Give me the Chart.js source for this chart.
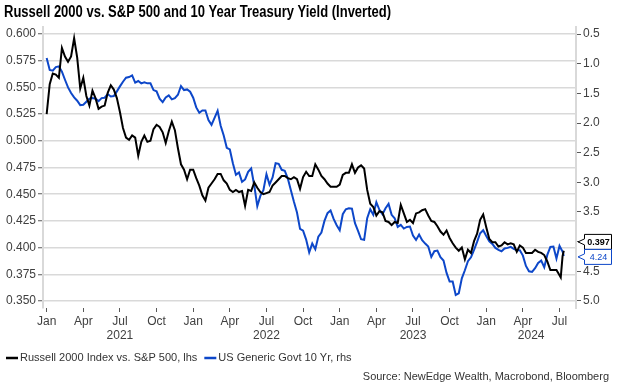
<!DOCTYPE html>
<html>
<head>
<meta charset="utf-8">
<script src="https://cdn.jsdelivr.net/npm/chart.js@4.4.1/dist/chart.umd.min.js"></script>
<style>
    html, body { margin: 0; padding: 0; background: #fff; }
    #wrap { width: 624px; height: 388px; }
</style>
</head>
<body>
<div id="wrap"><canvas id="chart" width="624" height="388"></canvas></div>
<script>
// months since Jan 2021
const months = [
    0, 0.25, 0.5, 0.75, 1, 1.25, 1.5, 1.75, 2, 2.25, 2.5, 2.75, 3, 3.25, 3.5, 3.75,
    4, 4.25, 4.5, 4.75, 5, 5.25, 5.5, 5.75, 6, 6.25, 6.5, 6.75, 7, 7.25, 7.5, 7.75,
    8, 8.25, 8.5, 8.75, 9, 9.25, 9.5, 9.75, 10, 10.25, 10.5, 10.75, 11, 11.25, 11.5, 11.75,
    12, 12.25, 12.5, 12.75, 13, 13.25, 13.5, 13.75, 14, 14.25, 14.5, 14.75, 15, 15.25, 15.5, 15.75,
    16, 16.25, 16.5, 16.75, 17, 17.25, 17.5, 17.75, 18, 18.25, 18.5, 18.75, 19, 19.25, 19.5, 19.75,
    20, 20.25, 20.5, 20.75, 21, 21.25, 21.5, 21.75, 22, 22.25, 22.5, 22.75, 23, 23.25, 23.5, 23.75,
    24, 24.25, 24.5, 24.75, 25, 25.25, 25.5, 25.75, 26, 26.25, 26.5, 26.75, 27, 27.25, 27.5, 27.75,
    28, 28.25, 28.5, 28.75, 29, 29.25, 29.5, 29.75, 30, 30.25, 30.5, 30.75, 31, 31.25, 31.5, 31.75,
    32, 32.25, 32.5, 32.75, 33, 33.25, 33.5, 33.75, 34, 34.25, 34.5, 34.75, 35, 35.25, 35.5, 35.75,
    36, 36.25, 36.5, 36.75, 37, 37.25, 37.5, 37.75, 38, 38.25, 38.5, 38.75, 39, 39.25, 39.5, 39.75,
    40, 40.25, 40.5, 40.75, 41, 41.25, 41.5, 41.75, 42, 42.1, 42.25, 42.35
];

const russellVsSpx = [
    0.525, 0.553, 0.563, 0.562, 0.559, 0.587, 0.579, 0.574, 0.579, 0.596, 0.578, 0.549, 0.559, 0.542, 0.533, 0.547,
    0.540, 0.530, 0.532, 0.533, 0.545, 0.552, 0.548, 0.540, 0.527, 0.512, 0.503, 0.501, 0.505, 0.503, 0.486, 0.499,
    0.505, 0.499, 0.500, 0.511, 0.515, 0.513, 0.508, 0.498, 0.509, 0.518, 0.510, 0.493, 0.478, 0.473, 0.464, 0.473,
    0.473, 0.465, 0.458, 0.449, 0.444, 0.456, 0.460, 0.464, 0.469, 0.469, 0.463, 0.460, 0.454, 0.452, 0.454, 0.452,
    0.453, 0.439, 0.454, 0.453, 0.461, 0.456, 0.452, 0.450, 0.451, 0.452, 0.458, 0.461, 0.464, 0.467, 0.467, 0.465,
    0.464, 0.466, 0.464, 0.455, 0.466, 0.471, 0.467, 0.467, 0.478, 0.473, 0.467, 0.464, 0.460, 0.457, 0.457, 0.457,
    0.459, 0.468, 0.470, 0.470, 0.478, 0.470, 0.475, 0.477, 0.474, 0.454, 0.441, 0.438, 0.430, 0.434, 0.433, 0.425,
    0.424, 0.421, 0.424, 0.423, 0.440, 0.432, 0.424, 0.426, 0.423, 0.432, 0.433, 0.435, 0.436, 0.430, 0.425, 0.424,
    0.420, 0.415, 0.412, 0.416, 0.409, 0.404, 0.400, 0.397, 0.400, 0.389, 0.398, 0.395, 0.406, 0.413, 0.426, 0.431,
    0.419, 0.408, 0.405, 0.405, 0.401, 0.402, 0.405, 0.403, 0.404, 0.403, 0.396, 0.402, 0.400, 0.395, 0.395, 0.395,
    0.398, 0.396, 0.395, 0.393, 0.387, 0.379, 0.379, 0.379, 0.374, 0.372, 0.392, 0.397
];

const ust10y = [
    0.905, 1.107, 1.119, 1.057, 1.046, 1.136, 1.271, 1.400, 1.495, 1.569, 1.625, 1.698, 1.692, 1.642, 1.591, 1.580,
    1.591, 1.631, 1.580, 1.574, 1.512, 1.552, 1.546, 1.467, 1.383, 1.304, 1.237, 1.226, 1.197, 1.321, 1.293, 1.332,
    1.316, 1.332, 1.332, 1.445, 1.467, 1.591, 1.647, 1.569, 1.535, 1.602, 1.580, 1.524, 1.377, 1.445, 1.434, 1.473,
    1.574, 1.737, 1.827, 1.788, 1.788, 1.951, 2.030, 1.912, 1.794, 2.047, 2.210, 2.418, 2.446, 2.677, 2.873, 2.834,
    2.992, 2.952, 2.823, 2.767, 3.053, 3.400, 3.228, 3.132, 2.862, 3.037, 2.918, 2.677, 2.688, 2.789, 2.806, 2.935,
    3.132, 3.329, 3.509, 3.785, 3.813, 3.965, 4.180, 4.032, 4.128, 3.914, 3.846, 3.650, 3.520, 3.475, 3.616, 3.723,
    3.807, 3.537, 3.453, 3.436, 3.442, 3.689, 3.818, 3.959, 3.970, 3.605, 3.453, 3.548, 3.335, 3.464, 3.537, 3.436,
    3.363, 3.548, 3.605, 3.751, 3.717, 3.779, 3.751, 3.745, 3.897, 3.970, 3.880, 3.976, 4.032, 4.083, 4.257, 4.161,
    4.150, 4.263, 4.319, 4.527, 4.673, 4.673, 4.898, 4.870, 4.617, 4.482, 4.330, 4.263, 4.139, 4.004, 3.858, 3.807,
    3.903, 3.993, 4.038, 4.105, 4.139, 4.161, 4.116, 4.105, 4.088, 4.122, 4.145, 4.145, 4.235, 4.409, 4.499, 4.510,
    4.448, 4.358, 4.319, 4.431, 4.223, 4.088, 4.083, 4.285, 4.071, 4.110, 4.167, 4.240
];

const tickMonths = [0, 3, 6, 9, 12, 15, 18, 21, 24, 27, 30, 33, 36, 39, 42];
const monthNames = ['Jan', 'Apr', 'Jul', 'Oct'];
const years = ['2021', '2022', '2023', '2024'];
const yearStarts = [0, 12, 24, 36];
const leftTicks = [0.350, 0.375, 0.400, 0.425, 0.450, 0.475, 0.500, 0.525, 0.550, 0.575, 0.600];
const rightTicks = [0.5, 1.0, 1.5, 2.0, 2.5, 3.0, 3.5, 4.0, 4.5, 5.0];

const titleText = 'Russell 2000 vs. S&P 500 and 10 Year Treasury Yield (Inverted)';
const sourceText = 'Source: NewEdge Wealth, Macrobond, Bloomberg';

const FONT = '"Liberation Sans", Arial, sans-serif';
const BLACK = '#000000';
const BLUE = '#0d47c9';
const TEXT = '#404040';

// 标题、年份、图例、来源和末值标签
const decorPlugin = {
    id: 'decor',
    afterDraw(chart) {
        const ctx = chart.ctx;
        const xs = chart.scales.x;
        const ys = chart.scales.y;
        const y2 = chart.scales.y2;

        // title (narrow bold)
        ctx.save();
        ctx.font = 'bold 16px "Liberation Sans Narrow", "Liberation Sans", Arial, sans-serif';
        ctx.fillStyle = '#000';
        ctx.textBaseline = 'alphabetic';
        const tw = ctx.measureText(titleText).width;
        ctx.translate(4, 16.5);
        ctx.scale(387 / tw, 1);
        ctx.fillText(titleText, 0, 0);
        ctx.restore();

        // year labels, centred on the visible part of each year
        ctx.save();
        ctx.font = '12px ' + FONT;
        ctx.fillStyle = TEXT;
        ctx.textAlign = 'center';
        ctx.textBaseline = 'middle';
        years.forEach((yr, i) => {
            const a = Math.max(yearStarts[i], xs.min);
            const b = Math.min(yearStarts[i] + 12, xs.max);
            ctx.fillText(yr, xs.getPixelForValue((a + b) / 2), 336);
        });
        ctx.restore();

        // legend
        ctx.save();
        ctx.font = '11px ' + FONT;
        ctx.textBaseline = 'middle';
        let lx = 6;
        const ly = 358;
        chart.data.datasets.forEach(ds => {
            ctx.strokeStyle = ds.borderColor;
            ctx.lineWidth = 2.5;
            ctx.beginPath();
            ctx.moveTo(lx, ly);
            ctx.lineTo(lx + 12, ly);
            ctx.stroke();
            ctx.fillStyle = '#333';
            ctx.fillText(ds.label, lx + 14, ly);
            lx += 14 + ctx.measureText(ds.label).width + 7;
        });

        // source
        ctx.textAlign = 'right';
        ctx.fillText(sourceText, 609, 377);
        ctx.restore();

        // last value tags on the right axis
        const lastB = russellVsSpx[russellVsSpx.length - 1];
        const lastU = ust10y[ust10y.length - 1];
        const yU = y2.getPixelForValue(lastU) + 1;
        let yB = ys.getPixelForValue(lastB);
        if (Math.abs(yB - yU) < 15) yB = yU - 15;
        drawTag(ctx, lastB.toFixed(3), yB, BLACK, true);
        drawTag(ctx, lastU.toFixed(2), yU, BLUE, false);
    }
};

function drawTag(ctx, text, cy, color, bold) {
    const x0 = 584, w = 27, h = 15;
    ctx.save();
    ctx.fillStyle = '#fff';
    ctx.strokeStyle = color;
    ctx.lineWidth = 1;
    ctx.beginPath();
    ctx.moveTo(x0 + 0.5, cy - h / 2);
    ctx.lineTo(x0 + w + 0.5, cy - h / 2);
    ctx.lineTo(x0 + w + 0.5, cy + h / 2);
    ctx.lineTo(x0 + 0.5, cy + h / 2);
    ctx.lineTo(x0 + 0.5, cy + 3);
    ctx.lineTo(x0 - 6, cy);
    ctx.lineTo(x0 + 0.5, cy - 3);
    ctx.closePath();
    ctx.fill();
    ctx.stroke();
    ctx.fillStyle = color;
    ctx.font = (bold ? 'bold ' : '') + '9px ' + FONT;
    ctx.textAlign = 'center';
    ctx.textBaseline = 'middle';
    ctx.fillText(text, x0 + w / 2 + 1, cy + 0.5);
    ctx.restore();
}

const ctx = document.getElementById('chart');
new Chart(ctx, {
    type: 'line',
    data: {
        datasets: [
            {
                label: 'Russell 2000 Index vs. S&P 500, lhs',
                data: months.map((m, i) => ({ x: m, y: russellVsSpx[i] })),
                borderColor: BLACK,
                backgroundColor: BLACK,
                borderWidth: 2,
                pointRadius: 0,
                tension: 0,
                yAxisID: 'y'
            },
            {
                label: 'US Generic Govt 10 Yr, rhs',
                data: months.map((m, i) => ({ x: m, y: ust10y[i] })),
                borderColor: BLUE,
                backgroundColor: BLUE,
                borderWidth: 2,
                pointRadius: 0,
                tension: 0,
                yAxisID: 'y2'
            }
        ]
    },
    options: {
        responsive: false,
        animation: false,
        devicePixelRatio: 1,
        layout: { padding: { left: 6, right: 0, top: 27, bottom: 44 } },
        plugins: {
            legend: { display: false },
            tooltip: { enabled: false }
        },
        scales: {
            x: {
                type: 'linear',
                min: -0.3,
                max: 43.35,
                afterBuildTicks: s => { s.ticks = tickMonths.map(v => ({ value: v })); },
                afterFit: s => { s.height = 36; },
                border: { display: false },
                grid: { drawOnChartArea: false, drawTicks: true, tickLength: 4, tickColor: '#595959', tickWidth: 1 },
                ticks: {
                    autoSkip: false,
                    maxRotation: 0,
                    padding: 2,
                    color: TEXT,
                    font: { family: FONT, size: 12 },
                    callback: v => monthNames[(Math.round(v) % 12) / 3]
                }
            },
            y: {
                position: 'left',
                min: 0.3434,
                max: 0.6066,
                afterBuildTicks: s => { s.ticks = leftTicks.map(v => ({ value: v })); },
                afterFit: s => { s.width = 37; },
                border: { display: true, color: '#d9d9d9', width: 2 },
                grid: { color: '#d9d9d9', lineWidth: 1.5, tickColor: '#595959', tickLength: 5, tickWidth: 1 },
                ticks: {
                    padding: 2,
                    color: TEXT,
                    font: { family: FONT, size: 12 },
                    callback: v => v.toFixed(3)
                }
            },
            y2: {
                position: 'right',
                reverse: true,
                min: 0.382,
                max: 5.118,
                afterBuildTicks: s => { s.ticks = rightTicks.map(v => ({ value: v })); },
                afterFit: s => { s.width = 48; },
                border: { display: true, color: '#d9d9d9', width: 2 },
                grid: { drawOnChartArea: false, tickColor: '#595959', tickLength: 5, tickWidth: 1 },
                ticks: {
                    padding: 2,
                    color: TEXT,
                    font: { family: FONT, size: 12 },
                    callback: v => v.toFixed(1)
                }
            }
        }
    },
    plugins: [decorPlugin]
});
</script>
</body>
</html>
